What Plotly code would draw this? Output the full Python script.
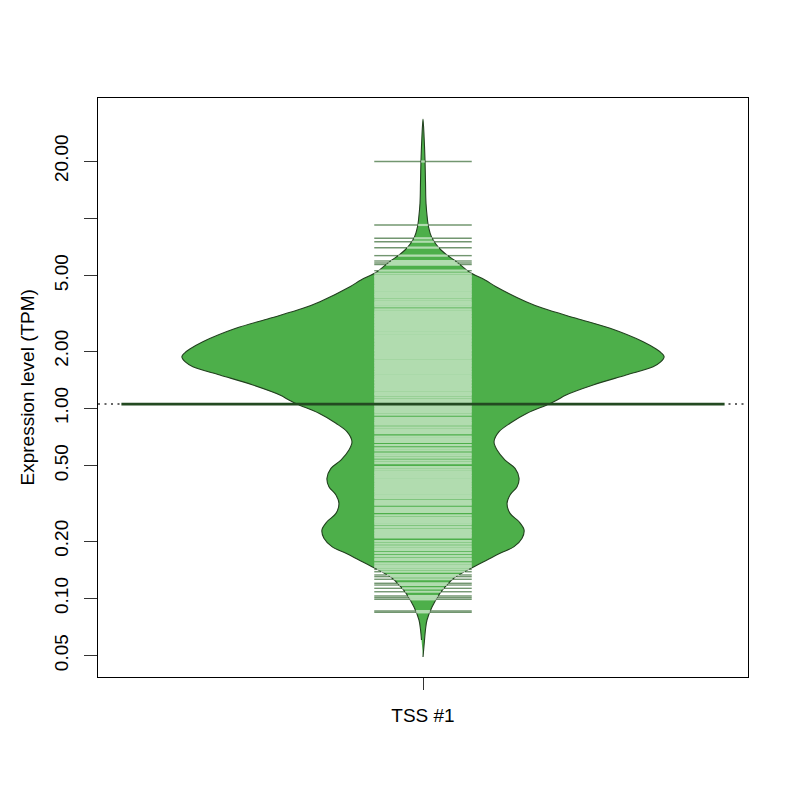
"""
    Bean plot of expression level (TPM) for TSS #1: density outline, one short
    line per observation, and the average line across the bean.
"""
import numpy as np
import plotly.graph_objects as go

## data
bean_tpm = [0.0491, 0.0603, 0.0685, 0.0769, 0.090, 0.1066, 0.117, 0.128, 0.1466, 0.159,
            0.1725, 0.187, 0.207, 0.229, 0.253, 0.280, 0.316, 0.350, 0.387, 0.428,
            0.483, 0.534, 0.603, 0.667, 0.753, 0.834, 0.941, 1.053, 1.106, 1.175,
            1.326, 1.497, 1.655, 1.753, 1.869, 1.96, 2.051, 2.241, 2.637, 2.977,
            3.36, 3.64, 4.365, 4.735, 5.18, 5.70, 6.03, 6.41, 6.81, 7.3,
            7.97, 9.0, 9.8, 12.0, 15.5, 20.3, 26.0, 33.3]
bean_density = [0, 1.5, 2.5, 4, 9, 17, 23.5, 31, 51, 64,
                77, 91, 99, 101, 96, 87, 84, 87, 94, 96,
                92, 82, 74, 71, 76, 87, 104, 126, 134, 143,
                170, 203, 230, 237.5, 241, 238, 233, 220, 187, 153,
                120, 103, 73, 62, 47, 37, 31, 24, 18, 13,
                8.5, 5.5, 4.5, 3, 2.5, 2, 1.2, 0]

observations = [19.9, 9.22, 7.85, 7.53, 7.00, 6.36, 5.96, 5.82, 5.71, 5.30, 5.12,
    4.97, 4.90, 4.82, 4.73, 4.65, 4.57, 4.48, 4.40, 4.32, 4.24, 4.16, 4.08, 4.00,
    3.93, 3.86, 3.74, 3.65, 3.58, 3.51, 3.44, 3.32, 3.24, 3.18, 3.12, 3.06, 3.00,
    2.95, 2.90, 2.85, 2.80, 2.75, 2.70, 2.65, 2.60, 2.56, 2.51, 2.47, 2.42, 2.38,
    2.34, 2.30, 2.26, 2.22, 2.18, 2.14, 2.10, 2.06, 2.03, 2.00, 1.96, 1.93, 1.89,
    1.86, 1.83, 1.79, 1.76, 1.73, 1.70, 1.67, 1.64, 1.61, 1.58, 1.55, 1.52, 1.49,
    1.46, 1.43, 1.41, 1.38, 1.36, 1.33, 1.31, 1.28, 1.26, 1.24, 1.21, 1.19, 1.17,
    1.14, 1.11, 1.09, 1.07, 1.05, 1.03, 1.01, 0.99, 0.97, 0.95, 0.925, 0.89, 0.87,
    0.85, 0.835, 0.82, 0.795, 0.775, 0.76, 0.74, 0.71, 0.695, 0.68, 0.665, 0.64,
    0.615, 0.60, 0.578, 0.565, 0.55, 0.53, 0.515, 0.49, 0.477, 0.466, 0.457, 0.448,
    0.44, 0.431, 0.423, 0.415, 0.407, 0.399, 0.391, 0.384, 0.376, 0.369, 0.362,
    0.355, 0.348, 0.342, 0.336, 0.325, 0.317, 0.311, 0.299, 0.291, 0.285, 0.273,
    0.265, 0.26, 0.255, 0.25, 0.245, 0.237, 0.23, 0.226, 0.221, 0.217, 0.213,
    0.209, 0.2, 0.194, 0.188, 0.183, 0.1795, 0.173, 0.167, 0.162, 0.159, 0.153,
    0.149, 0.146,
    0.142, 0.138, 0.1327, 0.130, 0.126, 0.120, 0.1175, 0.1129, 0.1083, 0.1028,
    0.1007, 0.0988, 0.0857, 0.0844]

average_tpm = 1.053
category = 'TSS #1'
tick_vals = [0.05, 0.1, 0.2, 0.5, 1, 2, 5, 10, 20]
tick_text = ['0.05', '0.10', '0.20', '0.50', '1.00', '2.00', '5.00', '', '20.00']

## parameters
params = dict()
params['font'] = 'Liberation Sans, Arial, Helvetica, sans-serif'
params['fill'] = '#4DAF4A'
params['border'] = '#22401f'
params['inside_alpha'] = 0.56
params['outside'] = 'rgba(20,80,16,0.6)'
params['average'] = '#234a21'
params['max_width'] = 0.371
params['line_half'] = 0.075
params['avg_half'] = 0.464


def relative_density():
    dens = np.array(bean_density, dtype=float)
    return dens / dens.max()


def build_bean():
    """Filled density outline, mirrored around x = 1"""
    dens = relative_density()
    right = 1 + params['max_width'] * dens
    left = 1 - params['max_width'] * dens
    xs = list(right) + list(left[::-1][1:-1])
    ys = list(bean_tpm) + list(bean_tpm[::-1][1:-1])
    return go.Scatter(x=xs, y=ys, mode='lines', fill='toself', fillcolor=params['fill'],
                      line=dict(color=params['border'], width=1.1, shape='spline', smoothing=1.0),
                      hoverinfo='skip', showlegend=False)


def build_bean_lines():
    """One short line per observation, light inside the bean and dark outside"""
    log_grid = np.log10(bean_tpm)
    dens = relative_density()
    lo, hi = 1 - params['line_half'], 1 + params['line_half']
    xin, yin = [], []
    xout = [[], [], []]
    yout = [[], [], []]
    for i, v in enumerate(observations):
        hw = params['max_width'] * np.interp(np.log10(v), log_grid, dens)
        hw = min(hw, params['line_half'])
        xin += [1 - hw, 1 + hw, None]
        yin += [v, v, None]
        if hw < params['line_half']:
            xout[i % 3] += [lo, 1 - hw, None, 1 + hw, hi, None]
            yout[i % 3] += [v, v, None, v, v, None]
    traces = [go.Scatter(x=xin, y=yin, mode='lines', hoverinfo='skip', showlegend=False,
                         opacity=params['inside_alpha'],
                         line=dict(color='white', width=2.2))]
    for g in range(3):
        traces.append(go.Scatter(x=xout[g], y=yout[g], mode='lines', hoverinfo='skip',
                                 showlegend=False, line=dict(color=params['outside'], width=1.4)))
    return traces


def build_average():
    overall = go.Scatter(x=[0.5, 1.5], y=[average_tpm, average_tpm], mode='lines',
                         line=dict(color='#333333', width=1.5, dash='2px,4.5px'),
                         hoverinfo='skip', showlegend=False)
    bean_avg = go.Scatter(x=[1 - params['avg_half'], 1 + params['avg_half']],
                          y=[average_tpm, average_tpm], mode='lines',
                          line=dict(color=params['average'], width=2.7),
                          hoverinfo='skip', showlegend=False)
    return [overall, bean_avg]


def create_figure():
    fig = go.Figure()
    fig.add_trace(build_bean())
    fig.add_traces(build_bean_lines())
    fig.add_traces(build_average())
    fig.update_layout(
        width=800, height=800,
        margin=dict(l=90, r=60, t=90, b=131),
        paper_bgcolor='white', plot_bgcolor='white',
        font=dict(family=params['font'], size=19, color='black'),
        showlegend=False,
        xaxis=dict(range=[0.5, 1.5], tickvals=[1], ticktext=[category],
                   ticks='outside', ticklen=12, tickcolor='#333333', tickwidth=1,
                   showline=True, linecolor='black', linewidth=1, mirror=True,
                   showgrid=False, zeroline=False, ticklabelstandoff=9),
        yaxis=dict(type='log', range=[-1.414, 1.633], tickvals=tick_vals, ticktext=tick_text,
                   tickangle=-90, ticks='outside', ticklen=13, tickcolor='#333333', tickwidth=1,
                   showline=True, linecolor='black', linewidth=1, mirror=True,
                   showgrid=False, zeroline=False, ticklabelstandoff=8),
        annotations=[dict(text='Expression level (TPM)', xref='paper', yref='paper',
                          x=-0.1077, y=0.5, xanchor='center', yanchor='middle',
                          textangle=-90, showarrow=False, font=dict(size=19))],
    )
    return fig


if __name__ == '__main__':
    fig = create_figure()
    fig.write_html('out.html')
